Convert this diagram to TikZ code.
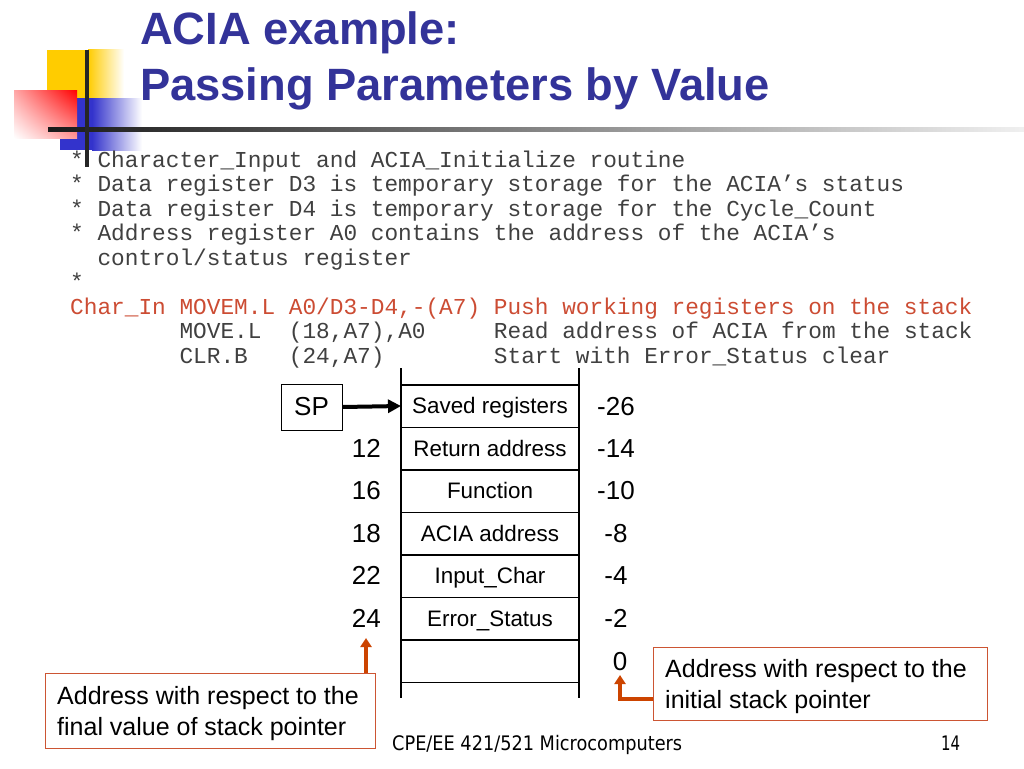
\documentclass[tikz,border=0pt]{standalone}
\usepackage{fontspec}
\setmainfont{Liberation Sans}
\setmonofont{Liberation Mono}
\newfontfamily\footfont{DejaVu Sans}
\usetikzlibrary{arrows.meta,shadings}
\definecolor{titleblue}{RGB}{51,51,153}
\definecolor{codegray}{RGB}{64,64,64}
\definecolor{codered}{RGB}{204,76,51}
\definecolor{callred}{RGB}{204,68,0}
\definecolor{boxred}{RGB}{204,85,51}
\definecolor{decoyellow}{RGB}{255,204,0}
\definecolor{decoblue}{RGB}{51,51,204}
\begin{document}
\begin{tikzpicture}[x=1pt,y=-1pt,
  title/.style={font=\fontsize{45.3}{46}\selectfont\bfseries, text=titleblue, inner sep=0, anchor=base west},
  code/.style={font=\ttfamily\fontsize{22.78}{24}\selectfont, text=codegray, inner sep=0, anchor=base west},
  codehi/.style={code, text=codered},
  cell/.style={font=\fontsize{22.4}{24}\selectfont, inner sep=0, anchor=base},
  num/.style={font=\fontsize{26}{26}\selectfont, inner sep=0, anchor=base},
  stackline/.style={line width=1.4pt, black},
  callout/.style={draw=boxred, line width=1pt, font=\fontsize{25}{31.5}\selectfont, align=left, anchor=north west, inner sep=0pt},
  calltext/.style={font=\fontsize{25}{31.5}\selectfont, align=left, anchor=north west, inner sep=0pt},
  callarrow/.style={draw=callred, line width=4pt, -{Triangle[length=9pt,width=11pt]}},
  foot/.style={inner sep=0, anchor=base west, text=black}
]
\useasboundingbox[fill=white] (0,0) rectangle (1024,768);

% decoration
\fill[decoyellow] (47,50) rectangle (88,100);
\shade[left color=decoyellow, right color=white] (88,50) rectangle (124,100);
\fill[decoblue] (60,98) rectangle (92,150);
\shade[left color=decoblue, right color=white] (92,98) rectangle (142,150);
\shade[upper left=red!35!white, upper right=red, lower left=white, lower right=red!40!white] (14,90) rectangle (77,138);
\shade[left color=black!90, right color=black!6] (48,127) rectangle (1024,131);
\fill[black!85] (85,50) rectangle (89,167);

% title
\node[title] (t1) at (140,45) {ACIA example:};
\node[title] (t2) at (140,100) {Passing Parameters by Value};

% code
\node[code] (l1) at (70,167) {*~Character\_Input~and~ACIA\_Initialize~routine};
\node[code] (l2) at (70,191.5) {*~Data~register~D3~is~temporary~storage~for~the~ACIA’s~status};
\node[code] (l3) at (70,216) {*~Data~register~D4~is~temporary~storage~for~the~Cycle\_Count};
\node[code] (l4) at (70,240.5) {*~Address~register~A0~contains~the~address~of~the~ACIA’s};
\node[code] (l5) at (70,265) {~~control/status~register};
\node[code] (l6) at (70,289.5) {*};
\node[codehi] (l7) at (70,314) {Char\_In~MOVEM.L~A0/D3-D4,-(A7)~Push~working~registers~on~the~stack};
\node[code] (l8) at (70,338.5) {~~~~~~~~MOVE.L~~(18,A7),A0~~~~~Read~address~of~ACIA~from~the~stack};
\node[code] (l9) at (70,363) {~~~~~~~~CLR.B~~~(24,A7)~~~~~~~~Start~with~Error\_Status~clear};

% stack frame
\draw[stackline] (401,368) -- (401,698);
\draw[stackline] (579,368) -- (579,698);
\foreach \yy in {385,427.5,470,512.5,555,597.5,640,682.5}
  \draw[stackline] (401,\yy) -- (579,\yy);

\node[cell] (c1) at (490,413.5) {Saved registers};
\node[cell] (c2) at (490,456) {Return address};
\node[cell] (c3) at (490,498.5) {Function};
\node[cell] (c4) at (490,541) {ACIA address};
\node[cell] (c5) at (490,583.5) {Input\_Char};
\node[cell] (c6) at (490,626) {Error\_Status};
\coordinate (c1w) at (401,406);

% left offsets
\node[num, anchor=base east] (n12) at (381,457) {12};
\node[num, anchor=base east] (n16) at (381,499.5) {16};
\node[num, anchor=base east] (n18) at (381,542) {18};
\node[num, anchor=base east] (n22) at (381,584.5) {22};
\node[num, anchor=base east] (n24) at (381,627) {24};

% right offsets
\node[num] (m26) at (616,415) {-26};
\node[num] (m14) at (616,457) {-14};
\node[num] (m10) at (616,499.5) {-10};
\node[num] (m8) at (616,542) {-8};
\node[num] (m4) at (616,584.5) {-4};
\node[num] (m2) at (616,627) {-2};
\node[num] (m0) at (620,670) {0};

% SP
\node[draw, line width=1pt, minimum width=61pt, minimum height=46pt, inner sep=0,
      font=\fontsize{26}{26}\selectfont] (sp) at (311.5,407) {SP};
\draw[line width=4pt, -{Triangle[length=13pt,width=13pt]}] (sp.east) -- (c1w);

% callouts
\node[callout, minimum width=330pt, minimum height=75pt] (cL) at (45,673) {};
\node[calltext] (tL) at (57,686) {Address with respect to the\\final value of stack pointer};
\node[callout, minimum width=334pt, minimum height=73pt] (cR) at (653,647) {};
\node[calltext] (tR) at (665,659) {Address with respect to the\\initial stack pointer};
\coordinate (tipL) at (366,638);
\coordinate (tipR) at (620,675);
\draw[callarrow] (cL.north -| tipL) -- (tipL);
\draw[callarrow] ([yshift=-14.5pt]cR.west) -| (tipR);

% footer
\node[foot] (ft) at (392,750) {\resizebox{290pt}{\height}{\footfont\fontsize{20}{20}\selectfont CPE/EE 421/521 Microcomputers}};
\node[foot] (pg) at (941,750) {\resizebox{19pt}{\height}{\footfont\fontsize{20}{20}\selectfont 14}};
\end{tikzpicture}
\end{document}
